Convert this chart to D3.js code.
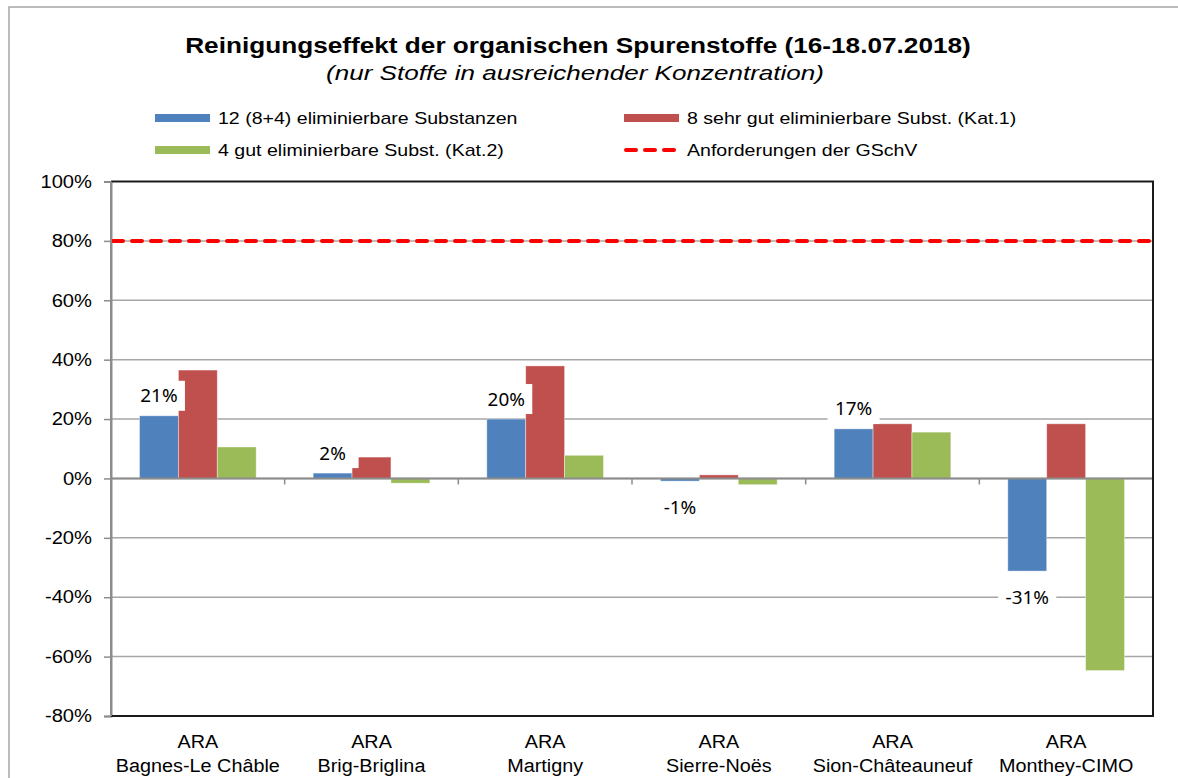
<!DOCTYPE html>
<html>
<head>
<meta charset="utf-8">
<script src="https://cdn.jsdelivr.net/npm/d3@7"></script>
<style>
    body { margin: 0; background: #fff; }
    svg { display: block; font-family: "Liberation Sans", Arial, sans-serif; }
</style>
</head>
<body>
<svg id="chart" width="1178" height="778"></svg>
<script>
    // Daten
    var sites = ["Bagnes-Le Châble", "Brig-Briglina", "Martigny", "Sierre-Noës", "Sion-Châteauneuf", "Monthey-CIMO"];
    var serien = ["alle12", "kat1", "kat2"];
    var serienNamen = ["12 (8+4) eliminierbare Substanzen", "8 sehr gut eliminierbare Subst. (Kat.1)", "4 gut eliminierbare Subst.  (Kat.2)"];
    var farben = ["#4f81bd", "#c0504d", "#9bbb59"];
    var alle12 = [0.211, 0.018, 0.200, -0.009, 0.167, -0.312];
    var kat1 = [0.365, 0.072, 0.379, 0.012, 0.184, 0.184];
    var kat2 = [0.106, -0.016, 0.078, -0.021, 0.156, -0.647];
    var anforderung = 0.8;
    var anforderungName = "Anforderungen der GSchV";
    var yTicks = [-0.8, -0.6, -0.4, -0.2, 0, 0.2, 0.4, 0.6, 0.8, 1.0];

    var werte = { alle12: alle12, kat1: kat1, kat2: kat2 };
    var rand = { l: 111, r: 1153, t: 181.5, b: 716 };

    var svg = d3.select("#chart");
    var pct = function(v) { return d3.format(".0%")(v).replace("\u2212", "-"); };

    // Text horizontal strecken (Excel-Export ist breiter gezogen)
    function strecken(sel, f) {
        sel.each(function() {
            var len = this.getComputedTextLength();
            d3.select(this).attr("textLength", len * f).attr("lengthAdjust", "spacingAndGlyphs");
        });
    }

    // aeusserer Rahmen
    svg.append("rect")
        .attr("x", 9).attr("y", 7)
        .attr("width", 1200).attr("height", 800)
        .attr("fill", "none").attr("stroke", "#a6a6a6").attr("stroke-width", 1.5);

    // Titel
    svg.append("text")
        .attr("x", 578).attr("y", 53)
        .attr("text-anchor", "middle")
        .style("font-size", "22px").style("font-weight", "bold")
        .text("Reinigungseffekt der organischen Spurenstoffe (16-18.07.2018)")
        .call(strecken, 1.19);
    svg.append("text")
        .attr("x", 575).attr("y", 80)
        .attr("text-anchor", "middle")
        .style("font-size", "21px").style("font-style", "italic")
        .text("(nur Stoffe in ausreichender Konzentration)")
        .call(strecken, 1.24);

    // Legende
    var legende = [
        { name: serienNamen[0], farbe: farben[0], x: 155, y: 118, typ: "bar" },
        { name: serienNamen[1], farbe: farben[1], x: 624, y: 118, typ: "bar" },
        { name: serienNamen[2], farbe: farben[2], x: 155, y: 150, typ: "bar" },
        { name: anforderungName, farbe: "#ff0000", x: 624, y: 150, typ: "line" }
    ];
    var leg = svg.append("g").selectAll("g")
        .data(legende).enter().append("g")
        .attr("transform", function(d) { return "translate(" + d.x + "," + d.y + ")"; });
    leg.filter(function(d) { return d.typ === "bar"; })
        .append("rect")
        .attr("x", 0).attr("y", -4).attr("width", 55).attr("height", 8)
        .attr("fill", function(d) { return d.farbe; });
    leg.filter(function(d) { return d.typ === "line"; })
        .append("line")
        .attr("x1", 2).attr("x2", 55).attr("y1", 0).attr("y2", 0)
        .attr("stroke", "#ff0000").attr("stroke-width", 4)
        .attr("stroke-linecap", "round")
        .attr("stroke-dasharray", "10,9");
    leg.append("text")
        .attr("x", 63).attr("y", 6)
        .style("font-size", "17px")
        .text(function(d) { return d.name; })
        .call(strecken, 1.15);

    // Skalen
    var x0 = d3.scaleBand().domain(sites).range([rand.l, rand.r]);
    var pad = x0.bandwidth() * 0.164;
    var x1 = d3.scaleBand().domain(serien).range([pad, x0.bandwidth() - pad]);
    var y = d3.scaleLinear().domain([-0.8, 1.0]).range([rand.b, rand.t]);

    // Gitterlinien
    svg.append("g").selectAll("line")
        .data(yTicks.filter(function(t) { return t > -0.8 && t < 1.0; }))
        .enter().append("line")
        .attr("x1", rand.l).attr("x2", rand.r)
        .attr("y1", function(d) { return y(d); }).attr("y2", function(d) { return y(d); })
        .attr("stroke", "#a6a6a6").attr("stroke-width", 1.5);

    // Y-Achse
    var yAxis = svg.append("g")
        .attr("transform", "translate(" + rand.l + ",0)")
        .call(d3.axisLeft(y).tickValues(yTicks).tickSize(7).tickPadding(12).tickFormat(pct));
    yAxis.select(".domain").attr("stroke", "#8c8c8c").attr("stroke-width", 2);
    yAxis.selectAll(".tick line").attr("stroke", "#8c8c8c").attr("stroke-width", 1.5);
    yAxis.selectAll(".tick text")
        .style("font-size", "18px").style("font-family", "Liberation Sans, Arial, sans-serif")
        .attr("fill", "#000")
        .call(strecken, 1.12);

    // Balken
    var gruppen = svg.append("g").selectAll("g")
        .data(sites).enter().append("g")
        .attr("transform", function(d) { return "translate(" + x0(d) + ",0)"; });
    gruppen.selectAll("rect")
        .data(function(d, i) {
            return serien.map(function(s, k) { return { serie: s, wert: werte[s][i], farbe: farben[k] }; });
        })
        .enter().append("rect")
        .attr("x", function(d) { return x1(d.serie); })
        .attr("width", x1.bandwidth())
        .attr("y", function(d) { return y(Math.max(0, d.wert)); })
        .attr("height", function(d) { return Math.abs(y(d.wert) - y(0)); })
        .attr("fill", function(d) { return d.farbe; })
        .attr("stroke", "#ffffff").attr("stroke-opacity", 0.5).attr("stroke-width", 0.8);

    // Null-Linie mit Kategorie-Ticks
    svg.append("line")
        .attr("x1", rand.l).attr("x2", rand.r)
        .attr("y1", y(0)).attr("y2", y(0))
        .attr("stroke", "#8c8c8c").attr("stroke-width", 2);
    svg.append("g").selectAll("line")
        .data(sites.slice(1))
        .enter().append("line")
        .attr("x1", function(d) { return x0(d); }).attr("x2", function(d) { return x0(d); })
        .attr("y1", y(0)).attr("y2", y(0) + 6)
        .attr("stroke", "#8c8c8c").attr("stroke-width", 1.5);

    // Anforderung 80%
    svg.append("line")
        .attr("x1", rand.l + 2).attr("x2", rand.r - 2)
        .attr("y1", y(anforderung)).attr("y2", y(anforderung))
        .attr("stroke", "#ff0000").attr("stroke-width", 4)
        .attr("stroke-linecap", "round")
        .attr("stroke-dasharray", "10,9");

    // Plotrahmen oben, rechts, unten
    svg.append("path")
        .attr("d", "M" + rand.l + "," + rand.t + "H" + rand.r + "V" + rand.b + "H" + rand.l)
        .attr("fill", "none").attr("stroke", "#1a1a1a").attr("stroke-width", 2);
    svg.append("line")
        .attr("x1", rand.l).attr("x2", rand.l).attr("y1", rand.t).attr("y2", rand.b)
        .attr("stroke", "#8c8c8c").attr("stroke-width", 2);

    // Datenbeschriftung (nur 12 Substanzen)
    var beschr = svg.append("g").selectAll("g")
        .data(alle12).enter().append("g")
        .attr("transform", function(d, i) {
            var cx = x0(sites[i]) + x1("alle12") + x1.bandwidth() / 2;
            var cy = d >= 0 ? y(d) - 20 : y(d) + 26;
            return "translate(" + cx + "," + cy + ")";
        });
    beschr.append("rect")
        .attr("x", function(d) { return d < -0.1 ? -29 : -26; })
        .attr("width", function(d) { return d < -0.1 ? 58 : 52; })
        .attr("y", -15).attr("height", 30)
        .attr("fill", "#fff");
    beschr.append("text")
        .attr("text-anchor", "middle")
        .attr("dy", "0.36em")
        .style("font-family", "Noto Sans, Open Sans, sans-serif")
        .style("font-size", "18px")
        .text(function(d) { return pct(d); })
        .call(strecken, 1.05);

    // Kategorie-Beschriftung
    var kat = svg.append("g").selectAll("g")
        .data(sites).enter().append("g")
        .style("font-size", "18px")
        .attr("text-anchor", "middle");
    kat.append("text")
        .attr("x", function(d) { return x0(d) + x0.bandwidth() / 2; })
        .attr("y", 748).text("ARA")
        .call(strecken, 1.1);
    kat.append("text")
        .attr("x", function(d) { return x0(d) + x0.bandwidth() / 2; })
        .attr("y", 772).text(function(d) { return d; })
        .call(strecken, 1.1);
</script>
</body>
</html>
